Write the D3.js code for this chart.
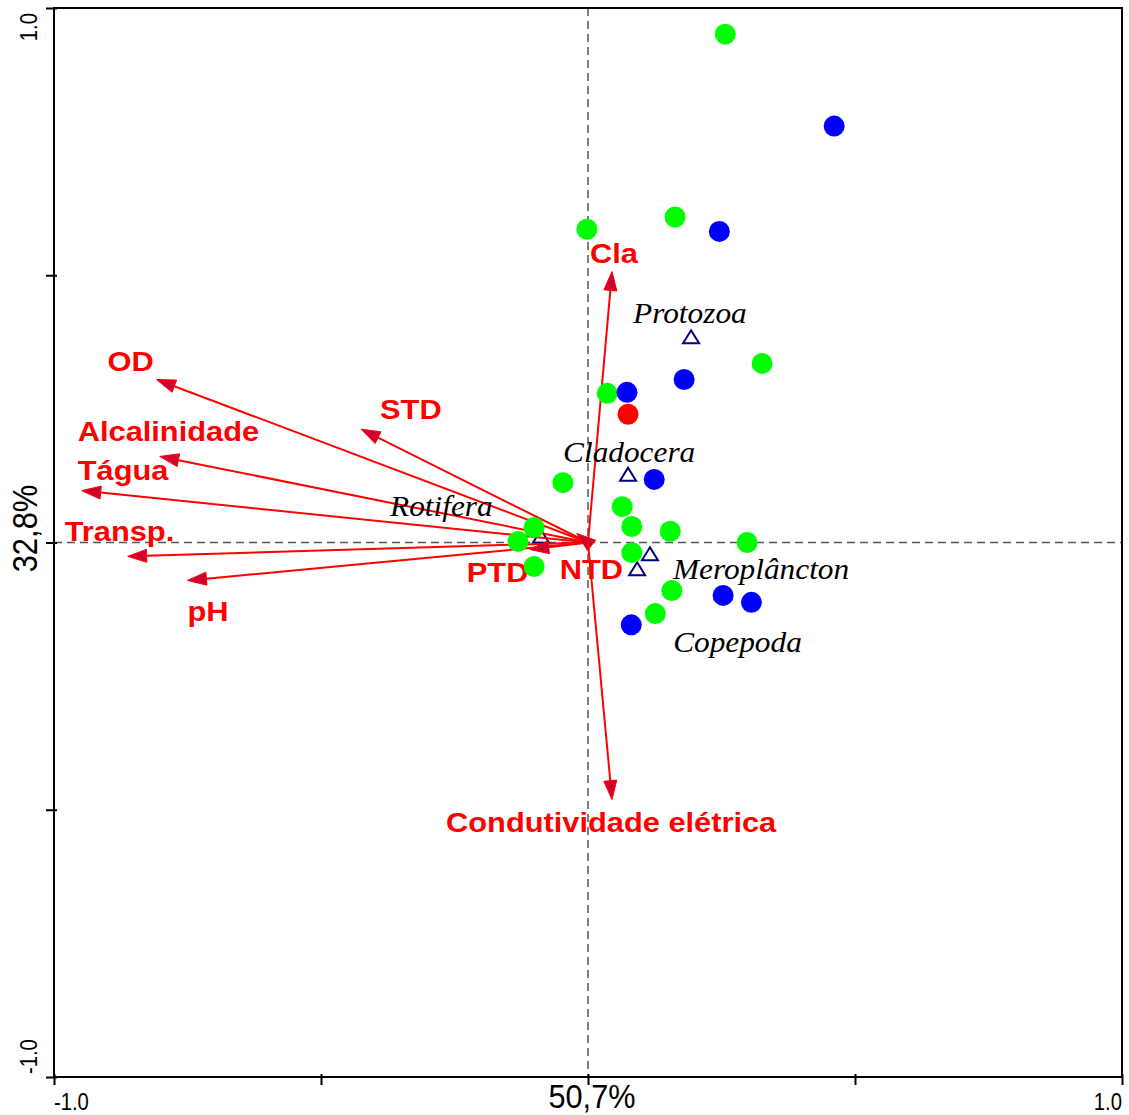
<!DOCTYPE html>
<html>
<head>
<meta charset="utf-8">
<script src="https://cdn.jsdelivr.net/npm/d3@7"></script>
<style>
  body { margin: 0; background: #fff; }
  svg { display: block; }
</style>
</head>
<body>
<div class="chart"></div>
<script>
// ============================================================================
// Data (ordination scores, axis units)
// ============================================================================

// environmental variables (arrows)
var envNames = ['Cla', 'OD', 'STD', 'Alcalinidade', 'Tágua', 'Transp.', 'pH', 'PTD', 'NTD', 'Condutividade elétrica'];
var envX = [0.045, -0.808, -0.425, -0.802, -0.948, -0.862, -0.750, -0.109, -0.021, 0.045];
var envY = [0.507, 0.305, 0.212, 0.161, 0.097, -0.026, -0.071, -0.013, 0.017, -0.481];

// species (triangles)
var speciesNames = ['Protozoa', 'Cladocera', 'Rotifera', 'Meroplâncton', 'Copepoda'];
var speciesX = [0.193, 0.075, -0.088, 0.116, 0.092];
var speciesY = [0.382, 0.125, 0.009, -0.024, -0.052];

// sampling sites (circles), by group
var greenX = [0.257, 0.163, -0.002, 0.326, 0.036, -0.047, 0.064, 0.082, -0.101, 0.154, -0.131, 0.298, 0.082, -0.101, 0.157, 0.126];
var greenY = [0.951, 0.609, 0.586, 0.335, 0.279, 0.112, 0.067, 0.030, 0.028, 0.021, 0.002, 0.000, -0.019, -0.045, -0.090, -0.133];
var blueX = [0.461, 0.246, 0.180, 0.073, 0.124, 0.253, 0.306, 0.081];
var blueY = [0.779, 0.582, 0.305, 0.281, 0.118, -0.099, -0.112, -0.154];
var redX = [0.075];
var redY = [0.240];

// axes
var tickValues = [-1, -0.5, 0, 0.5, 1];
var xTitle = '50,7%';
var yTitle = '32,8%';

// ============================================================================
// Layout (label offsets in pixels, relative to the mark)
// ============================================================================

var envLabelOffset = [[-22, -9], [-49, -8], [19, -10], [-82, -15], [-4, -11], [-63, -15], [0, 41], [-63, 33], [-17, 46], [-166, 32]];
var speciesLabelOffset = [[-58, -15], [-65, -14], [-151, -22], [23, 24], [36, 82]];

var svgWidth = 1129;
var svgHeight = 1115;
var margin = { top: 8, right: 7, bottom: 38, left: 54 };
var width = svgWidth - margin.left - margin.right;
var height = svgHeight - margin.top - margin.bottom;

var svg = d3.select('.chart')
  .append('svg')
  .attr('width', svgWidth)
  .attr('height', svgHeight);

var chartGroup = svg.append('g')
  .attr('transform', `translate(${margin.left}, ${margin.top})`);

var xScale = d3.scaleLinear().domain([-1, 1]).range([0, width]);
var yScale = d3.scaleLinear().domain([-1, 1]).range([height, 0]);

// ============================================================================
// Zero lines, frame and axes
// ============================================================================

chartGroup.append('line')
  .attr('x1', xScale(0)).attr('x2', xScale(0))
  .attr('y1', 0).attr('y2', height)
  .attr('stroke', '#555').attr('stroke-width', 1.5)
  .attr('stroke-dasharray', '8,5');

chartGroup.append('line')
  .attr('x1', 0).attr('x2', width)
  .attr('y1', yScale(0)).attr('y2', yScale(0))
  .attr('stroke', '#555').attr('stroke-width', 1.5)
  .attr('stroke-dasharray', '8,5');

chartGroup.append('rect')
  .attr('width', width).attr('height', height)
  .attr('fill', 'none').attr('stroke', '#000').attr('stroke-width', 2);

var xAxis = chartGroup.append('g')
  .attr('transform', `translate(0, ${height})`)
  .call(d3.axisBottom(xScale).tickValues(tickValues).tickSize(8).tickSizeOuter(0).tickFormat(''));

var yAxis = chartGroup.append('g')
  .call(d3.axisLeft(yScale).tickValues(tickValues).tickSize(8).tickSizeOuter(0).tickFormat(''));

[xAxis, yAxis].forEach(function(ax) {
  ax.select('.domain').remove();
  ax.selectAll('.tick line').attr('stroke', '#000').attr('stroke-width', 2);
});
xAxis.selectAll('.tick line').attr('y1', -3);
yAxis.selectAll('.tick line').attr('x1', 3);

// end tick labels
var tickFont = { family: 'Arial, "Liberation Sans", sans-serif', size: 23 };

chartGroup.append('text')
  .attr('transform', `translate(${xScale(-1)}, ${height + 33}) scale(0.88,1)`)
  .attr('font-family', tickFont.family).attr('font-size', tickFont.size)
  .text('-1.0');

chartGroup.append('text')
  .attr('transform', `translate(${xScale(1)}, ${height + 33}) scale(0.88,1)`)
  .attr('text-anchor', 'end')
  .attr('font-family', tickFont.family).attr('font-size', tickFont.size)
  .text('1.0');

chartGroup.append('text')
  .attr('transform', `translate(-17, ${yScale(1) + 5}) rotate(-90) scale(0.88,1)`)
  .attr('text-anchor', 'end')
  .attr('font-family', tickFont.family).attr('font-size', tickFont.size)
  .text('1.0');

chartGroup.append('text')
  .attr('transform', `translate(-17, ${yScale(-1) - 3}) rotate(-90) scale(0.88,1)`)
  .attr('font-family', tickFont.family).attr('font-size', tickFont.size)
  .text('-1.0');

// axis titles
chartGroup.append('text')
  .attr('transform', `translate(${xScale(0) + 4}, ${height + 31}) scale(0.93,1)`)
  .attr('text-anchor', 'middle')
  .attr('font-family', tickFont.family).attr('font-size', 33)
  .text(xTitle);

chartGroup.append('text')
  .attr('transform', `translate(-17, ${yScale(0) - 14}) rotate(-90) scale(0.86,1)`)
  .attr('text-anchor', 'middle')
  .attr('font-family', tickFont.family).attr('font-size', 36)
  .text(yTitle);

// ============================================================================
// Species triangles (under the arrows, as in the original)
// ============================================================================

var speciesData = speciesNames.map(function(name, i) {
  return { name: name, x: speciesX[i], y: speciesY[i], off: speciesLabelOffset[i] };
});

chartGroup.append('g')
  .selectAll('path')
  .data(speciesData)
  .enter()
    .append('path')
    .attr('transform', d => `translate(${xScale(d.x)}, ${yScale(d.y)})`)
    .attr('d', 'M0,-8L8,5L-8,5Z')
    .attr('fill', 'none')
    .attr('stroke', '#000080')
    .attr('stroke-width', 2);

// ============================================================================
// Environmental arrows
// ============================================================================

var envData = envNames.map(function(name, i) {
  return { name: name, x: envX[i], y: envY[i], off: envLabelOffset[i] };
});

var headLen = 19;
var headHalf = 6.5;

var arrowGroup = chartGroup.append('g');

envData.forEach(function(d) {
  var x0 = xScale(0), y0 = yScale(0);
  var x1 = xScale(d.x), y1 = yScale(d.y);
  var dx = x1 - x0, dy = y1 - y0;
  var len = Math.sqrt(dx * dx + dy * dy);
  var ux = dx / len, uy = dy / len;
  var bx = x1 - ux * headLen, by = y1 - uy * headLen;

  arrowGroup.append('line')
    .attr('x1', x0).attr('y1', y0)
    .attr('x2', bx).attr('y2', by)
    .attr('stroke', '#ff0000').attr('stroke-width', 2);

  arrowGroup.append('path')
    .attr('d', `M${x1},${y1}L${bx - uy * headHalf},${by + ux * headHalf}L${bx + uy * headHalf},${by - ux * headHalf}Z`)
    .attr('fill', '#d0002e')
    .attr('stroke', '#ff0000')
    .attr('stroke-width', 1);
});

chartGroup.append('g')
  .selectAll('text')
  .data(envData)
  .enter()
    .append('text')
    .attr('transform', d => `translate(${xScale(d.x) + d.off[0]}, ${yScale(d.y) + d.off[1]}) scale(1.1,1)`)
    .attr('font-family', 'Arial, "Liberation Sans", sans-serif')
    .attr('font-weight', 'bold')
    .attr('font-size', 28)
    .attr('fill', '#ff0000')
    .text(d => d.name);

// ============================================================================
// Species labels and sites
// ============================================================================

chartGroup.append('g')
  .selectAll('text')
  .data(speciesData)
  .enter()
    .append('text')
    .attr('transform', d => `translate(${xScale(d.x) + d.off[0]}, ${yScale(d.y) + d.off[1]}) scale(1.08,1)`)
    .attr('font-family', '"Times New Roman", "Liberation Serif", serif')
    .attr('font-style', 'italic')
    .attr('font-size', 29)
    .attr('fill', '#000')
    .text(d => d.name);

var siteGroups = [
  { xs: greenX, ys: greenY, color: '#00ff00' },
  { xs: blueX, ys: blueY, color: '#0000ff' },
  { xs: redX, ys: redY, color: '#ff0000' }
];

siteGroups.forEach(function(g) {
  chartGroup.append('g')
    .selectAll('circle')
    .data(g.xs.map((x, i) => [x, g.ys[i]]))
    .enter()
      .append('circle')
      .attr('cx', d => xScale(d[0]))
      .attr('cy', d => yScale(d[1]))
      .attr('r', 10.5)
      .attr('fill', g.color);
});
</script>
</body>
</html>
